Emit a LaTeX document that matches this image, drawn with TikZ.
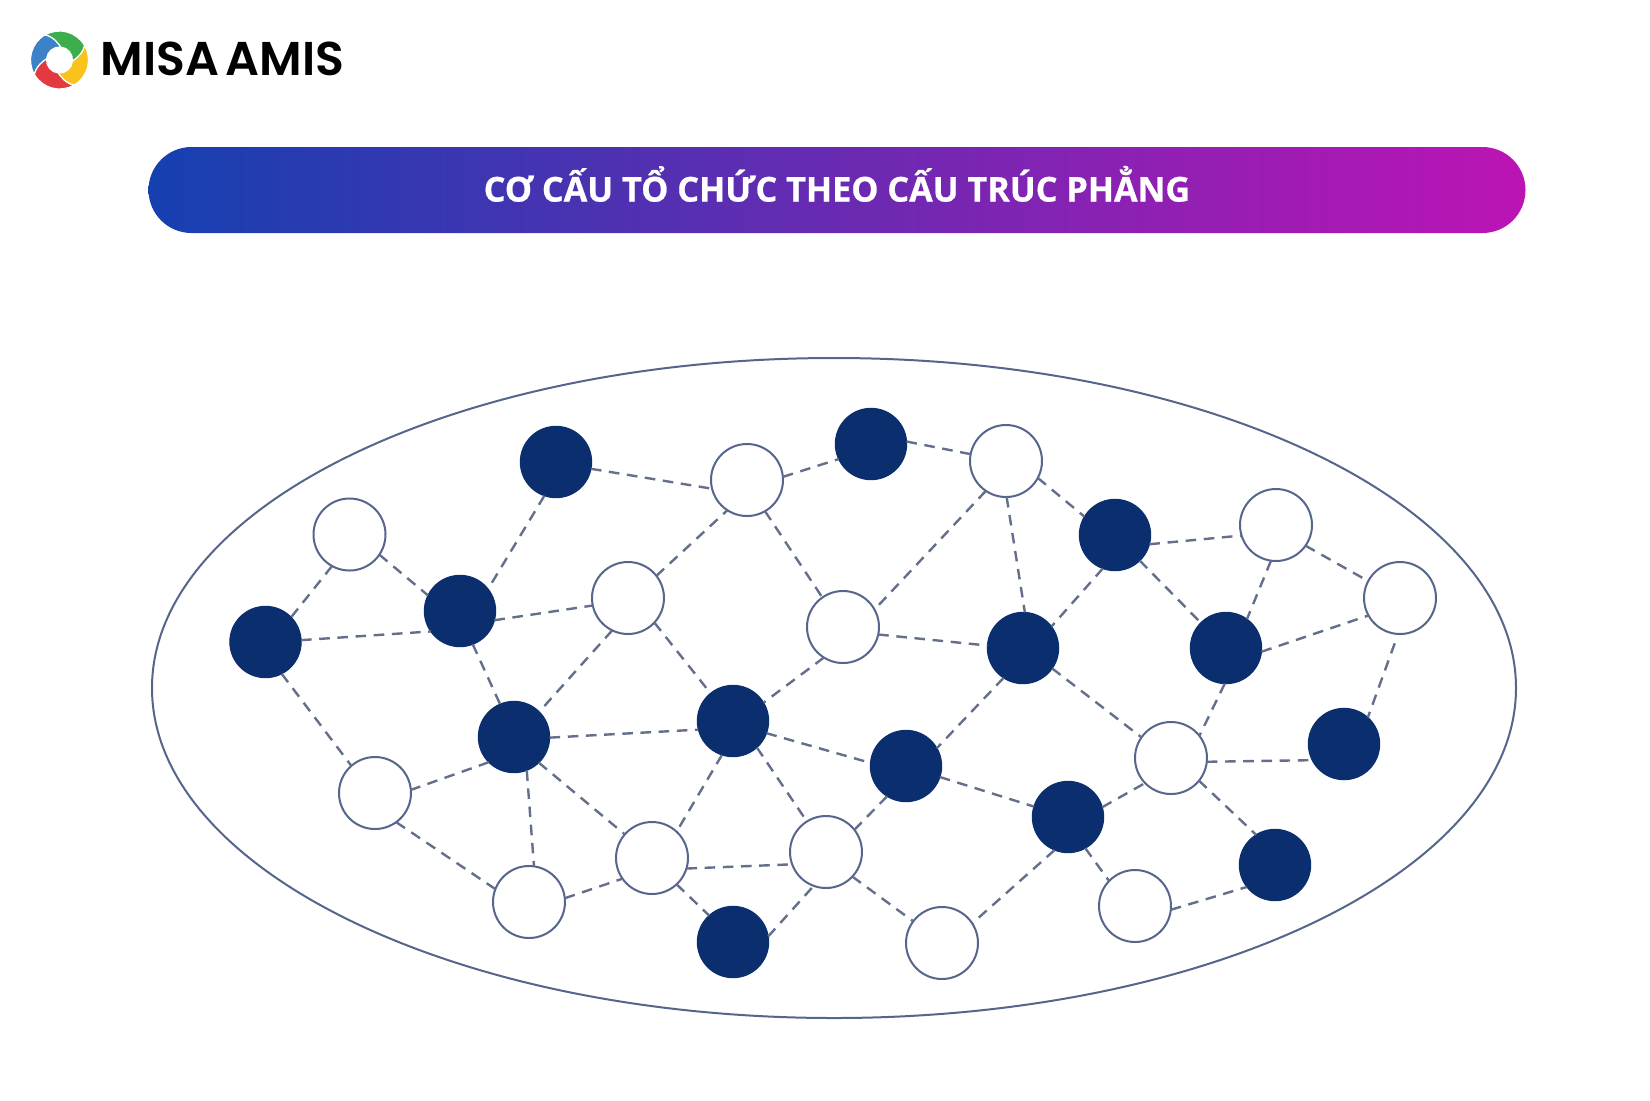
\documentclass[tikz,border=0pt]{standalone}
\usepackage{fontspec}
\usetikzlibrary{shapes.geometric}
\setmainfont{Open Sans}
\newfontfamily\titlefont{Open Sans}[BoldFeatures={FakeBold=0.7}]
\newfontfamily\logofont{Poppins}[UprightFont=* SemiBold]
\definecolor{navy}{HTML}{0B2E6F}
\definecolor{stroke}{HTML}{56658C}
\definecolor{dashc}{HTML}{646F8C}
\definecolor{bleft}{HTML}{1540B0}
\definecolor{bmid}{HTML}{6A28B4}
\definecolor{bright}{HTML}{BC14B4}
\tikzset{
  dark/.style={circle,fill=navy,draw=navy,line width=0.6pt,minimum size=35.6pt,inner sep=0pt,outer sep=0pt},
  light/.style={circle,fill=white,draw=stroke,line width=1pt,minimum size=36pt,inner sep=0pt,outer sep=0pt},
  edge/.style={draw=dashc,line width=1.2pt,dash pattern=on 5.3pt off 3.8pt},
  blade/.style={draw=white,line width=0.6pt}
}
\begin{document}
\begin{tikzpicture}[x=0.5pt,y=-0.5pt]
\useasboundingbox (0,0) rectangle (1650,1100);
\fill[white] (0,0) rectangle (1650,1100);
% logo
\begin{scope}[shift={(59.5,60)},x=0.5pt,y=0.5pt]
\foreach \r/\c in {0/3DAE4E,90/3B82C8,180/E23A3E,270/F7C31C}{
  \definecolor{bladec}{HTML}{\c}
  \fill[bladec,blade,rotate=\r] (120:29) arc[start angle=120,end angle=30,radius=29]
     .. controls (15:24) and (5:17) .. (-5:13)
     arc[start angle=-5,end angle=85,radius=13]
     .. controls (95:17) and (105:24) .. (120:29) -- cycle;
}
\end{scope}
\node[anchor=west,inner sep=0pt,font=\logofont\fontsize{23.7}{26}\selectfont] (logo) at (100,59) {MISA\hspace{3.5pt}AMIS};
% banner
\node[rounded corners=21.5pt,left color=bleft,middle color=bmid,right color=bright,minimum width=688.5pt,minimum height=43pt,inner sep=0pt,
      text=white,font=\titlefont\bfseries\fontsize{17.1}{20}\selectfont] (title) at (837,190) {\raisebox{6.3pt}{CƠ CẤU TỔ CHỨC THEO CẤU TRÚC PHẲNG}};
% outer ellipse
\node[ellipse,draw=stroke,line width=1pt,minimum width=682pt,minimum height=330pt,inner sep=0pt] (org) at (834,688) {};
% nodes
\node[dark]  (A) at (556,462) {};
\node[light] (B) at (747,480) {};
\node[dark]  (N) at (871,444) {};
\node[light] (O) at (1006,461) {};
\node[light] (C) at (349.5,534.5) {};
\node[dark]  (P) at (1115,535) {};
\node[light] (Q) at (1276,525) {};
\node[light] (R) at (1400,598) {};
\node[dark]  (D) at (460,611) {};
\node[light] (E) at (628,598) {};
\node[light] (S) at (843,627) {};
\node[dark]  (T) at (1023,648) {};
\node[dark]  (U) at (1226,648) {};
\node[dark]  (F) at (265.5,642) {};
\node[dark]  (G) at (514,737) {};
\node[dark]  (H) at (733,721) {};
\node[dark]  (V) at (906,766) {};
\node[light] (W) at (1171,758) {};
\node[dark]  (X) at (1344,744) {};
\node[light] (I) at (375,793) {};
\node[dark]  (Y) at (1068,817) {};
\node[light] (J) at (652,858) {};
\node[light] (K) at (826,852) {};
\node[dark]  (Z) at (1275,865) {};
\node[light] (L) at (529,902) {};
\node[light] (AA) at (1135,906) {};
\node[dark]  (M) at (733,942) {};
\node[light] (BB) at (942,943) {};
% connectors
\draw[edge] (A.-11.5) -- (B.194);
\draw[edge] (A.-109) -- (D.38);
\draw[edge] (C.-34) -- (D.154);
\draw[edge] (C.-119) -- (F.44);
\draw[edge] (F.3) -- (D.215);
\draw[edge] (D.-15) -- (E.192.5);
\draw[edge] (D.-69) -- (G.113);
\draw[edge] (E.38) -- (B.237);
\draw[edge] (E.-43) -- (H.129);
\draw[edge] (E.-116) -- (G.45);
\draw[edge] (B.-60) -- (S.125);
\draw[edge] (B.5.5) -- (N.205);
\draw[edge] (S.-122) -- (H.31);
\draw[edge] (G.-1) -- (H.194.5);
\draw[edge] (H.-20) -- (V.175);
\draw[edge] (H.-108) -- (J.47);
\draw[edge] (H.-48) -- (K.122);
\draw[edge] (G.-135) -- (I.5);
\draw[edge] (G.-69) -- (L.82);
\draw[edge] (G.-46) -- (J.139);
\draw[edge] (F.-63) -- (I.131);
\draw[edge] (I.-54) -- (L.159);
\draw[edge] (L.6.5) -- (J.215);
\draw[edge] (J.-17.6) -- (K.200);
\draw[edge] (J.-47) -- (M.132);
\draw[edge] (M.9.6) -- (K.-110);
\draw[edge] (N.4) -- (O.169);
\draw[edge] (O.-124) -- (S.29);
\draw[edge] (O.-89) -- (T.87);
\draw[edge] (O.-28.5) -- (P.149);
\draw[edge] (S.-12) -- (T.176);
\draw[edge] (P.-110.6) -- (T.37);
\draw[edge] (P.-15) -- (Q.197);
\draw[edge] (P.-46.5) -- (U.135);
\draw[edge] (Q.-98) -- (U.54);
\draw[edge] (Q.-35.5) -- (R.152);
\draw[edge] (U.-6.5) -- (R.209);
\draw[edge,shorten <=5pt] (R.-93) -- (X.48);
\draw[edge] (U.-92) -- (W.38);
\draw[edge] (T.-35) -- (W.145);
\draw[edge] (T.-123) -- (V.30);
\draw[edge] (V.-122) -- (K.38);
\draw[edge] (V.-18) -- (Y.163);
\draw[edge] (Y.16) -- (W.224.5);
\draw[edge] (W.-6.5) -- (X.207);
\draw[edge] (W.-39) -- (Z.122);
\draw[edge] (Y.-61) -- (AA.136);
\draw[edge] (Y.-112) -- (BB.33.5);
\draw[edge] (K.-43) -- (BB.143);
\draw[edge] (AA.-6) -- (Z.218);
\end{tikzpicture}
\end{document}
